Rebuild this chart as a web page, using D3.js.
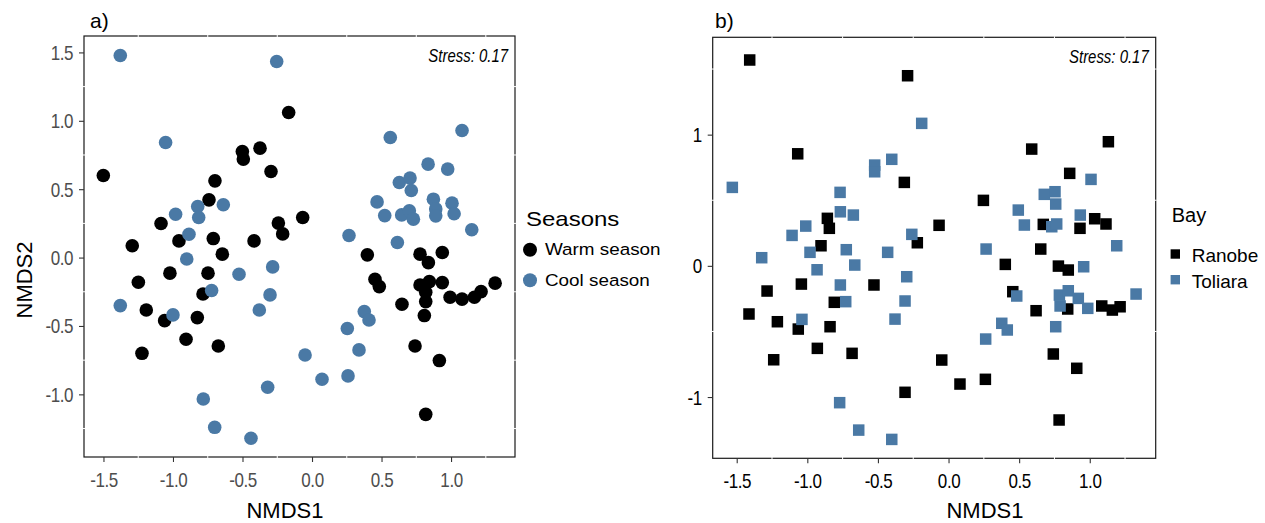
<!DOCTYPE html>
<html>
<head>
<meta charset="utf-8">
<script src="https://cdn.jsdelivr.net/npm/d3@7"></script>
<style>
  html, body { margin: 0; padding: 0; background: #fff; }
  svg { display: block; }
  text { font-family: "Liberation Sans", Arial, sans-serif; }
</style>
</head>
<body>
<svg id="chart" width="1265" height="523"></svg>
<script>
// ---------------- DATA ----------------
// Panel a: NMDS by season  [NMDS1, NMDS2]
const warmSeason = [
  [-0.168,1.061],[-0.501,0.775],[-0.494,0.720],[-0.374,0.800],[-1.501,0.600],
  [-0.295,0.629],[-0.698,0.561],[-0.741,0.422],[-1.086,0.249],[-0.242,0.252],
  [-0.211,0.173],[-0.067,0.293],[-0.957,0.122],[-0.710,0.139],[-0.417,0.122],
  [-1.293,0.086],[-0.645,0.025],[-1.022,-0.114],[-0.748,-0.114],[-1.249,-0.180],
  [-0.784,-0.266],[-1.192,-0.383],[-1.060,-0.461],[-0.825,-0.439],[-0.906,-0.597],
  [-0.674,-0.646],[-1.223,-0.700],[0.398,0.020],[0.777,0.025],[0.837,-0.037],
  [0.937,0.037],[0.453,-0.158],[0.484,-0.212],[0.777,-0.200],[0.844,-0.176],
  [0.937,-0.183],[0.818,-0.253],[0.818,-0.322],[0.993,-0.290],[1.079,-0.304],
  [1.168,-0.290],[1.216,-0.249],[1.317,-0.187],[0.647,-0.341],[0.808,-0.424],
  [0.741,-0.646],[0.916,-0.753],[0.818,-1.146]
];
const coolSeason = [
  [-1.379,1.477],[-0.254,1.434],[-1.053,0.841],[-0.822,0.373],[-0.638,0.386],
  [-0.981,0.317],[-0.815,0.293],[-0.885,0.171],[-0.901,-0.010],[-0.283,-0.068],
  [-0.525,-0.122],[-0.722,-0.241],[-0.302,-0.273],[-1.379,-0.351],[-1.000,-0.419],
  [-0.379,-0.383],[-0.319,-0.948],[-0.782,-1.034],[-0.700,-1.241],[-0.439,-1.321],
  [-0.050,-0.712],[0.072,-0.890],[0.259,-0.865],[0.254,-0.519],[0.338,-0.675],
  [0.376,-0.395],[0.410,-0.456],[0.266,0.161],[0.614,0.110],[0.563,0.878],
  [1.079,0.929],[0.835,0.683],[0.976,0.647],[0.628,0.549],[0.705,0.581],
  [0.714,0.490],[0.468,0.407],[0.873,0.427],[1.007,0.398],[0.890,0.356],
  [0.523,0.307],[0.645,0.312],[0.700,0.342],[0.729,0.281],[0.890,0.305],
  [1.022,0.320],[1.149,0.203]
];
// Panel b: NMDS by bay
const ranobe = [
  [-1.408,1.569],[-0.290,1.449],[-1.068,0.854],[-0.313,0.636],[-0.858,0.362],
  [-0.844,0.286],[-0.903,0.153],[-1.042,-0.139],[-0.528,-0.146],[-1.285,-0.192],
  [-0.809,-0.278],[-1.413,-0.367],[-1.212,-0.426],[-1.064,-0.482],[-0.839,-0.464],
  [-0.929,-0.629],[-0.683,-0.667],[-1.238,-0.716],[-0.308,-0.964],[0.589,0.890],
  [1.132,0.946],[0.858,0.705],[0.247,0.499],[0.671,0.316],[0.931,0.286],
  [1.035,0.359],[1.115,0.319],[-0.067,0.309],[-0.221,0.176],[0.653,0.128],
  [0.402,0.011],[0.778,-0.002],[0.848,-0.032],[0.455,-0.197],[0.844,-0.329],
  [0.620,-0.342],[1.085,-0.306],[1.160,-0.337],[1.215,-0.312],[0.742,-0.672],
  [0.908,-0.781],[-0.048,-0.718],[0.081,-0.901],[0.261,-0.865],[0.783,-1.175]
];
const toliara = [
  [-1.531,0.598],[-0.523,0.768],[-0.523,0.717],[-0.402,0.812],[-0.768,0.560],
  [-0.766,0.412],[-0.674,0.387],[-1.011,0.303],[-1.108,0.232],[-0.981,0.103],
  [-0.724,0.123],[-0.431,0.103],[-1.323,0.062],[-0.931,-0.030],[-0.664,0.006],
  [-0.260,0.240],[-0.296,-0.083],[-0.766,-0.146],[-0.728,-0.273],[-0.308,-0.268],
  [-1.038,-0.408],[-0.379,-0.406],[-0.771,-1.043],[-0.636,-1.252],[-0.402,-1.323],
  [-0.190,1.086],[1.009,0.659],[0.678,0.545],[0.754,0.565],[0.759,0.471],
  [0.494,0.425],[0.537,0.311],[0.731,0.298],[0.766,0.319],[0.933,0.387],
  [1.191,0.153],[0.266,0.128],[0.957,-0.007],[0.483,-0.230],[0.785,-0.223],
  [0.848,-0.190],[0.919,-0.248],[0.986,-0.324],[0.790,-0.306],[1.328,-0.215],
  [0.377,-0.438],[0.416,-0.489],[0.759,-0.464],[0.263,-0.558]
];

const xTicks = [-1.5, -1.0, -0.5, 0.0, 0.5, 1.0];
const xTickLabels = ["-1.5", "-1.0", "-0.5", "0.0", "0.5", "1.0"];
const yTicksA = [-1.0, -0.5, 0.0, 0.5, 1.0, 1.5];
const yTickLabelsA = ["-1.0", "-0.5", "0.0", "0.5", "1.0", "1.5"];
const yTicksB = [-1, 0, 1];
const yTickLabelsB = ["-1", "0", "1"];
const xMinor = [-1.25, -0.75, -0.25, 0.25, 0.75, 1.25];
const yMinorA = [-1.25, -0.75, -0.25, 0.25, 0.75, 1.25];
const yMinorB = [-0.5, 0.5, 1.5];

const seasonNames = ["Warm season", "Cool season"];
const bayNames = ["Ranobe", "Toliara"];
const stressLabel = "Stress: 0.17";

// ---------------- STYLE ----------------
const BLACK = "#000000";
const BLUE = "#4a79a5";
const FRAME = "#1a1a1a";

const svg = d3.select("#chart");

function drawPanel(cfg) {
  const g = svg.append("g");
  const x = d3.scaleLinear().domain(cfg.xDomain).range([cfg.left, cfg.right]);
  const y = d3.scaleLinear().domain(cfg.yDomain).range([cfg.bottom, cfg.top]);

  // frame
  g.append("rect")
    .attr("x", cfg.left).attr("y", cfg.top)
    .attr("width", cfg.right - cfg.left).attr("height", cfg.bottom - cfg.top)
    .attr("fill", "none").attr("stroke", FRAME).attr("stroke-width", 1.2);

  // minor white grid (only visible where crossing the frame)
  g.selectAll(".mx").data(cfg.xMinor).join("line")
    .attr("x1", d => x(d)).attr("x2", d => x(d))
    .attr("y1", cfg.top - 1).attr("y2", cfg.bottom + 1)
    .attr("stroke", "#fff").attr("stroke-width", 1);
  g.selectAll(".my").data(cfg.yMinor).join("line")
    .attr("y1", d => y(d)).attr("y2", d => y(d))
    .attr("x1", cfg.left - 1).attr("x2", cfg.right + 1)
    .attr("stroke", "#fff").attr("stroke-width", 1);

  // axes
  const xa = g.append("g").attr("transform", `translate(0,${cfg.bottom})`)
    .call(d3.axisBottom(x).tickValues(cfg.xTicks)
      .tickFormat((d, i) => cfg.xTickLabels[i]).tickSize(5).tickPadding(4));
  const ya = g.append("g").attr("transform", `translate(${cfg.left},0)`)
    .call(d3.axisLeft(y).tickValues(cfg.yTicks)
      .tickFormat((d, i) => cfg.yTickLabels[i]).tickSize(5).tickPadding(5));
  [xa, ya].forEach(a => {
    a.select(".domain").remove();
    a.selectAll(".tick line").attr("stroke", "#333").attr("stroke-width", 1.1);
    a.selectAll(".tick text")
      .attr("fill", cfg.tickColor)
      .style("font-size", "20px")
      .style("font-family", '"Liberation Sans", Arial, sans-serif')
      .style("letter-spacing", "-0.5px");
  });
  xa.selectAll(".tick text").attr("dy", null).attr("y", 30)
    .attr("transform", "scale(0.85,1)");
  ya.selectAll(".tick text").attr("dy", "0.35em")
    .attr("x", -11 / 0.85)
    .attr("transform", "scale(0.85,1)");

  // points
  cfg.series.forEach(s => {
    if (s.shape === "circle") {
      g.append("g").selectAll("circle").data(s.data).join("circle")
        .attr("cx", d => x(d[0])).attr("cy", d => y(d[1]))
        .attr("r", 6.8).attr("fill", s.color);
    } else {
      const sz = 11.5;
      g.append("g").selectAll("rect").data(s.data).join("rect")
        .attr("x", d => x(d[0]) - sz / 2).attr("y", d => y(d[1]) - sz / 2)
        .attr("width", sz).attr("height", sz).attr("fill", s.color);
    }
  });

  // stress
  g.append("text")
    .attr("transform", `translate(${cfg.right - 7},${cfg.top + 26}) scale(0.83,1)`)
    .attr("text-anchor", "end")
    .style("font-size", "18px").style("font-style", "italic")
    .text(stressLabel);

  // panel tag
  g.append("text").attr("x", cfg.tagX).attr("y", 28)
    .style("font-size", "21px").text(cfg.tag);

  // x title
  g.append("text").attr("x", cfg.xTitleX).attr("y", 518)
    .attr("text-anchor", "middle").style("font-size", "22px").text("NMDS1");

  return { x, y };
}

drawPanel({
  left: 84, right: 515, top: 36, bottom: 457,
  xDomain: [-1.64, 1.46], yDomain: [-1.458, 1.62],
  xTicks, xTickLabels, yTicks: yTicksA, yTickLabels: yTickLabelsA,
  xMinor, yMinor: yMinorA, tickColor: "#4d4d4d",
  series: [
    { data: warmSeason, color: BLACK, shape: "circle" },
    { data: coolSeason, color: BLUE, shape: "circle" }
  ],
  tag: "a)", tagX: 90, xTitleX: 285
});

drawPanel({
  left: 712.7, right: 1155.7, top: 37.3, bottom: 458.3,
  xDomain: [-1.67, 1.467], yDomain: [-1.467, 1.742],
  xTicks, xTickLabels, yTicks: yTicksB, yTickLabels: yTickLabelsB,
  xMinor, yMinor: yMinorB, tickColor: "#000",
  series: [
    { data: ranobe, color: BLACK, shape: "square" },
    { data: toliara, color: BLUE, shape: "square" }
  ],
  tag: "b)", tagX: 715, xTitleX: 985
});

// y title (panel a)
svg.append("text")
  .attr("transform", "translate(32,280) rotate(-90)")
  .attr("text-anchor", "middle").style("font-size", "22px").text("NMDS2");

// legend a
const legA = svg.append("g");
legA.append("text").attr("transform", "translate(526,226) scale(1.2,1)")
  .style("font-size", "20px").text("Seasons");
const seasonColors = [BLACK, BLUE];
seasonNames.forEach((name, i) => {
  const cy = 249.7 + i * 30.5;
  legA.append("circle").attr("cx", 530).attr("cy", cy).attr("r", 7).attr("fill", seasonColors[i]);
  legA.append("text").attr("transform", `translate(545,${cy + 5.5}) scale(1.11,1)`)
    .style("font-size", "17px").text(name);
});

// legend b
const legB = svg.append("g");
legB.append("text").attr("x", 1171.7).attr("y", 222)
  .style("font-size", "20px").text("Bay");
const bayColors = [BLACK, BLUE];
bayNames.forEach((name, i) => {
  const cy = 254 + i * 25.7;
  legB.append("rect").attr("x", 1175.3 - 4.7).attr("y", cy - 4.7)
    .attr("width", 9.4).attr("height", 9.4).attr("fill", bayColors[i]);
  legB.append("text").attr("x", 1191.7).attr("y", cy + 8.3)
    .style("font-size", "19px").text(name);
});
</script>
</body>
</html>
